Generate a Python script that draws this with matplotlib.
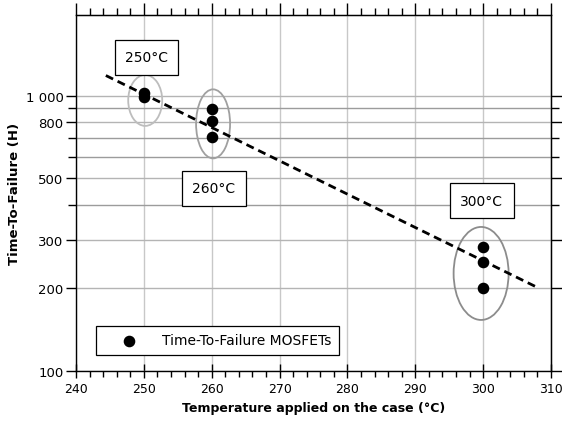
import matplotlib
matplotlib.use('Agg')
import matplotlib.pyplot as plt
from matplotlib.patches import Ellipse
from matplotlib.ticker import FixedLocator, NullFormatter, MultipleLocator

#---Data
temp_250 = [250, 250]
ttf_250 = [1020, 985]
temp_260 = [260, 260, 260]
ttf_260 = [895, 805, 708]
temp_300 = [300, 300, 300]
ttf_300 = [281, 248, 200]

trend_x = [244.4, 308.0]
trend_y = [1182, 201]

group_labels = ['250°C', '260°C', '300°C']
label_x = [250.4, 260.3, 299.8]
label_y = [1374, 461, 415]

ellipse_x = [250.2, 260.2, 299.7]
ellipse_y = [960, 789, 226]

y_major = [100, 200, 300, 500, 800, 1000]
y_major_labels = ['100', '200', '300', '500', '800', '1 000']
y_minor = [400, 600, 700, 900]

#---Figure
W, H = 562, 427
fig = plt.figure(figsize=(W / 100, H / 100), dpi=100)
ax_l, ax_r, ax_t, ax_b = 76, 551, 16, 372
ax = fig.add_axes([ax_l / W, 1 - ax_b / H, (ax_r - ax_l) / W, (ax_b - ax_t) / H])

ax.set_yscale('log')
ax.set_xlim(240, 310)
ax.set_ylim(100, 1960)

ax.xaxis.set_major_locator(MultipleLocator(10))
ax.xaxis.set_minor_locator(MultipleLocator(2))
ax.yaxis.set_major_locator(FixedLocator(y_major))
ax.yaxis.set_ticklabels(y_major_labels)
ax.yaxis.set_minor_locator(FixedLocator(y_minor))
ax.yaxis.set_minor_formatter(NullFormatter())

ax.grid(True, axis='x', which='major', color='#c8c8c8', lw=1.0)
ax.grid(True, axis='y', which='major', color='#b4b4b4', lw=1.0)
ax.grid(True, axis='y', which='minor', color='#9c9c9c', lw=1.0)
ax.set_axisbelow(True)

ax.tick_params(axis='x', which='major', direction='inout', length=10, width=1, labelsize=9, pad=3)
ax.tick_params(axis='x', which='minor', direction='out', length=4, width=1)
ax.tick_params(axis='y', which='major', direction='out', length=7, width=1, labelsize=9.5, pad=2)
ax.tick_params(axis='y', which='minor', direction='out', length=6, width=1)

top = ax.secondary_xaxis('top')
top.xaxis.set_major_locator(MultipleLocator(10))
top.xaxis.set_minor_locator(MultipleLocator(2))
top.tick_params(which='major', direction='out', length=9, width=1, labeltop=False)
top.tick_params(which='minor', direction='out', length=5, width=1)

right = ax.secondary_yaxis('right')
right.yaxis.set_major_locator(FixedLocator(y_major))
right.yaxis.set_minor_locator(FixedLocator(y_minor))
right.yaxis.set_minor_formatter(NullFormatter())
right.tick_params(which='major', direction='out', length=10, width=1, labelright=False)
right.tick_params(which='minor', direction='out', length=6, width=1)

for s in ax.spines.values():
    s.set_linewidth(1)

#---Points and trend
all_x = temp_250 + temp_260 + temp_300
all_y = ttf_250 + ttf_260 + ttf_300
ax.scatter(all_x, all_y, s=54, color='black', zorder=4, label='Time-To-Failure MOSFETs')
ax.plot(trend_x, trend_y, color='black', lw=2.0, dashes=(2.9, 1.8), zorder=5)

#---Ellipses around groups (sizes in pixels)
ell_size = [(34, 51), (34, 69), (55, 93)]
ell_color = ['#bdbdbd', '#a0a0a0', '#8c8c8c']
to_axes = ax.transAxes.inverted()
for cx, cy, (w, h), c in zip(ellipse_x, ellipse_y, ell_size, ell_color):
    center = to_axes.transform(ax.transData.transform((cx, cy)))
    e = Ellipse(center, w / (ax_r - ax_l), h / (ax_b - ax_t), transform=ax.transAxes,
                fill=False, edgecolor=c, lw=1.3, zorder=3)
    ax.add_patch(e)

for t, x, y in zip(group_labels, label_x, label_y):
    ax.text(x, y, t, ha='center', va='center', fontsize=10, zorder=6,
            bbox=dict(boxstyle='square,pad=0.75', fc='white', ec='black', lw=0.9))

leg = ax.legend(loc='lower left', bbox_to_anchor=(0.042, 0.045), fancybox=False,
                edgecolor='black', framealpha=1, borderaxespad=0, handletextpad=0.55,
                borderpad=0.55, fontsize=10, handlelength=3.66)
leg.get_frame().set_linewidth(0.9)

ax.set_xlabel('Temperature applied on the case (°C)', fontsize=9, fontweight='bold', labelpad=4)
ax.set_ylabel('Time-To-Failure (H)', fontsize=9.5, fontweight='bold', labelpad=3)

fig.savefig('out.png', dpi=100)
